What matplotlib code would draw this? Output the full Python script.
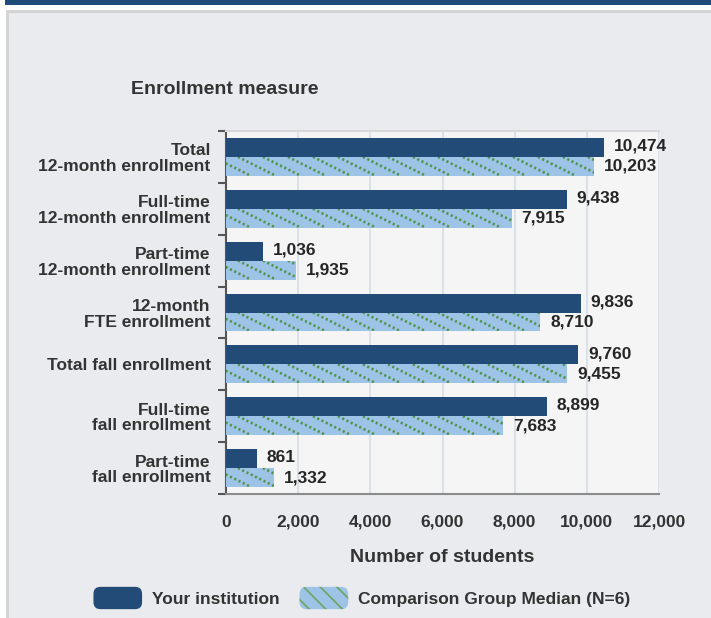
import matplotlib
matplotlib.use("Agg")
import matplotlib.pyplot as plt
from matplotlib.patches import Rectangle, FancyBboxPatch, Patch
from matplotlib.legend_handler import HandlerPatch
from matplotlib.ticker import FuncFormatter

plt.rcParams["font.family"] = ["Liberation Sans", "DejaVu Sans"]
plt.rcParams["font.weight"] = "bold"
plt.rcParams["hatch.linewidth"] = 1.3

# ── Data ──────────────────────────────────────────────────────────────────
categories = [
    "Total\n12-month enrollment",
    "Full-time\n12-month enrollment",
    "Part-time\n12-month enrollment",
    "12-month\nFTE enrollment",
    "Total fall enrollment",
    "Full-time\nfall enrollment",
    "Part-time\nfall enrollment",
]
your_institution = [10474, 9438, 1036, 9836, 9760, 8899, 861]
comparison_median = [10203, 7915, 1935, 8710, 9455, 7683, 1332]
x_ticks = [0, 2000, 4000, 6000, 8000, 10000, 12000]

# ── Colours ───────────────────────────────────────────────────────────────
DARK = "#234b78"
LIGHT = "#9dc3e6"
HATCH = "#4f9448"
TEXT = "#333333"
PANEL = "#eaebef"
AXBG = "#f5f5f5"
GRID = "#d9dfea"

XMAX = 12000


class RoundHandler(HandlerPatch):
    """Legend key drawn as a rounded box (keeps the hatch)."""
    def create_artists(self, legend, orig_handle, xdescent, ydescent,
                       width, height, fontsize, trans):
        p = FancyBboxPatch((-xdescent + 3, -ydescent + 3), width - 6, height - 6,
                           boxstyle="round,pad=3,rounding_size=5",
                           facecolor=orig_handle.get_facecolor(),
                           edgecolor=orig_handle.get_edgecolor(),
                           hatch=orig_handle.get_hatch(), lw=0,
                           transform=trans)
        return [p]


fig = plt.figure(figsize=(7.11, 6.18), dpi=100, facecolor="white")

# panel background + top band
fig.patches.append(Rectangle((7 / 711, -0.01), 1.0, 1 - 11 / 618 + 0.01,
                             transform=fig.transFigure, facecolor=PANEL,
                             edgecolor="#d2d2d2", lw=2, zorder=-10))
fig.patches.append(Rectangle((5 / 711, 1 - 4.5 / 618), 1.0, 4.5 / 618,
                             transform=fig.transFigure, facecolor="#1f4b7a",
                             edgecolor="none", zorder=-10))

ax_w_px, ax_h_px = 433, 363
ax = fig.add_axes([226 / 711, 124 / 618, ax_w_px / 711, ax_h_px / 618])
ax.set_facecolor(AXBG)

n = len(categories)
centers = list(range(n))
bar_h = 0.365
y_dark = [c - bar_h / 2 for c in centers]
y_light = [c + bar_h / 2 for c in centers]

ax.barh(y_dark, your_institution, height=bar_h, color=DARK, zorder=3)
light_bars = ax.barh(y_light, comparison_median, height=bar_h, color=LIGHT,
                     lw=0, zorder=3)

# dotted diagonal texture on the comparison bars, clipped to each bar
x_per_px = XMAX / ax_w_px
spacing = 25 * x_per_px          # horizontal gap between texture lines
run = 38 * x_per_px              # horizontal run over one bar height
for rect, y in zip(light_bars, y_light):
    x0 = -run
    while x0 < rect.get_width():
        ln, = ax.plot([x0, x0 + run], [y - bar_h / 2, y + bar_h / 2],
                      color=HATCH, lw=1.9, ls=(0, (0.8, 1.0)),
                      solid_capstyle="butt", zorder=4)
        ln.set_clip_path(rect)
        x0 += spacing

for y, v in zip(y_dark, your_institution):
    ax.annotate(f"{v:,}", (v, y), xytext=(7, 1), textcoords="offset points",
                va="center", ha="left", fontsize=12.5, color="#262626")
for y, v in zip(y_light, comparison_median):
    ax.annotate(f"{v:,}", (v, y), xytext=(7, 0), textcoords="offset points",
                va="center", ha="left", fontsize=12.5, color="#262626")

ax.set_xlim(0, XMAX)
ax.set_ylim(n - 0.5, -0.5)
ax.set_xticks(x_ticks)
ax.xaxis.set_major_formatter(FuncFormatter(lambda v, p: f"{int(v):,}"))
ax.tick_params(axis="x", length=0, pad=15, labelsize=12.5, labelcolor=TEXT)
ax.grid(axis="x", color=GRID, lw=1.3, zorder=0)
ax.set_axisbelow(True)

ax.set_yticks(centers)
ax.set_yticklabels(categories, fontsize=12.5, color=TEXT, linespacing=1.05)
ax.tick_params(axis="y", length=0, pad=11)
ax.set_yticks([c - 0.5 for c in centers] + [n - 0.5], minor=True)
ax.tick_params(axis="y", which="minor", length=6, width=1.5, color="#555555")

ax.spines["right"].set_visible(False)
ax.spines["top"].set_color("#d8d8d8")
ax.spines["top"].set_linewidth(1.5)
ax.spines["left"].set_color("#555555")
ax.spines["left"].set_linewidth(1.5)
ax.spines["bottom"].set_color("#8c8c8c")
ax.spines["bottom"].set_linewidth(1.5)

ax.set_xlabel("Number of students", fontsize=14, fontweight="bold",
              color=TEXT, labelpad=14)
fig.text(131 / 711, 1 - 90 / 618, "Enrollment measure", fontsize=14,
         fontweight="bold", color=TEXT, ha="left", va="center")

handles = [Patch(facecolor=DARK, edgecolor=DARK, label="Your institution"),
           Patch(facecolor=LIGHT, hatch="\\\\", edgecolor="#6fa66a",
                 label="Comparison Group Median (N=6)")]
leg = fig.legend(handles=handles, loc="center", bbox_to_anchor=(0.509, 1 - 598 / 618),
                 ncol=2, frameon=False, fontsize=12.5, handlelength=2.8,
                 handleheight=1.6, handletextpad=0.57, columnspacing=1.15,
                 handler_map={Patch: RoundHandler()})
for t in leg.get_texts():
    t.set_color(TEXT)

fig.savefig("out.png", dpi=100, facecolor=fig.get_facecolor())
